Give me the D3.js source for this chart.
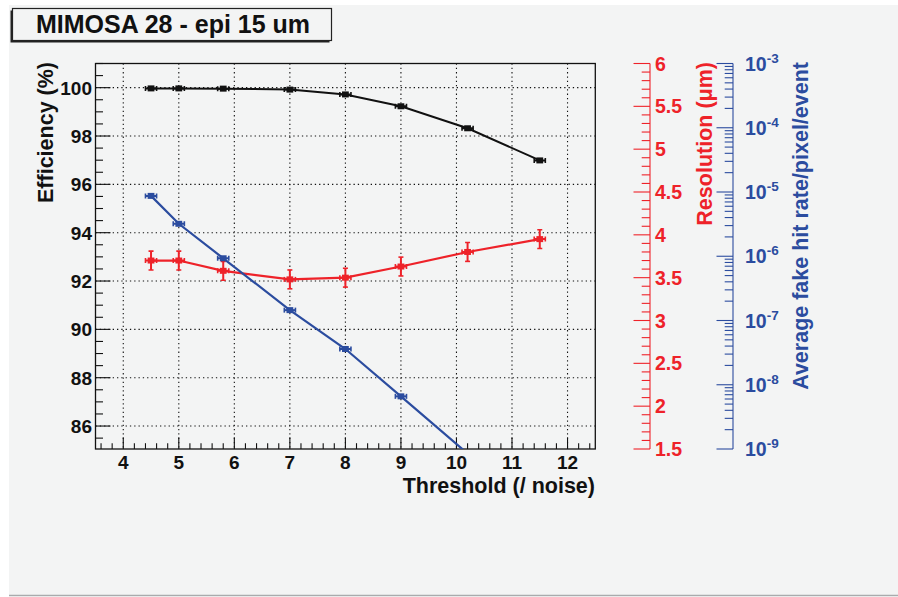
<!DOCTYPE html>
<html>
<head>
<meta charset="utf-8">
<script src="https://cdn.jsdelivr.net/npm/d3@7"></script>
<style>
  html, body { margin: 0; padding: 0; background: #ffffff; }
  svg { display: block; }
  text { font-family: "Liberation Sans", Arial, Helvetica, sans-serif; font-weight: bold; }
</style>
</head>
<body>
<svg id="chart" width="898" height="597"></svg>
<script>
// ---------------- data ----------------
const chartTitle = "MIMOSA 28 - epi 15 um";
const thresholds = [4.5, 5, 5.8, 7, 8, 9, 10.2, 11.5];
const thresholdErr = [0.1, 0.1, 0.1, 0.1, 0.1, 0.1, 0.1, 0.1];
const efficiency = [99.97, 99.97, 99.96, 99.92, 99.72, 99.23, 98.32, 96.99];
const resolution = [3.70, 3.70, 3.58, 3.48, 3.50, 3.63, 3.80, 3.95];
const resolutionErr = [0.11, 0.11, 0.11, 0.11, 0.11, 0.11, 0.11, 0.11];
const fakeThresholds = [4.5, 5, 5.8, 7, 8, 9, 10.2];
const fakeRate = [8.7e-6, 3.2e-6, 9.3e-7, 1.45e-7, 3.6e-8, 6.6e-9, 8.5e-10];
const xTicks = [4, 5, 6, 7, 8, 9, 10, 11, 12];
const effTicks = [86, 88, 90, 92, 94, 96, 98, 100];
const resTicks = [1.5, 2, 2.5, 3, 3.5, 4, 4.5, 5, 5.5, 6];
const fakeExponents = [-3, -4, -5, -6, -7, -8, -9];
const xTitle = "Threshold (/ noise)";
const effTitle = "Efficiency (%)";
const resTitle = "Resolution (\u03bcm)";
const fakeTitle = "Average fake hit rate/pixel/event";

// ---------------- layout ----------------
const W = 898, H = 597;
const frame = { left: 95.5, right: 595.3, top: 63.5, bottom: 449 };
const redAxisX = 650, blueAxisX = 733;
const BLACK = "#111111", RED = "#ee2229", BLUE = "#2b4c9f";

const svg = d3.select("#chart");

// background
svg.append("rect").attr("x", 9).attr("y", 5).attr("width", W - 9).attr("height", 590).attr("fill", "#f3f4f4");
svg.append("line").attr("x1", 9).attr("x2", W).attr("y1", 595.5).attr("y2", 595.5)
  .attr("stroke", "#a9abad").attr("stroke-width", 1.5);

// scales
const x = d3.scaleLinear().domain([3.5, 12.5]).range([frame.left, frame.right]);
const yEff = d3.scaleLinear().domain([85.05, 101]).range([frame.bottom, frame.top]);
const yRes = d3.scaleLinear().domain([1.5, 6]).range([frame.bottom, frame.top]);
const yFake = d3.scaleLog().domain([1e-9, 1e-3]).range([frame.bottom, frame.top]);

// grid
const grid = svg.append("g");
xTicks.forEach(t => grid.append("line")
  .attr("x1", x(t)).attr("x2", x(t)).attr("y1", frame.top).attr("y2", frame.bottom)
  .attr("stroke", BLACK).attr("stroke-width", 1.1).attr("stroke-dasharray", "1.3,3"));
effTicks.forEach(t => grid.append("line")
  .attr("x1", frame.left).attr("x2", frame.right).attr("y1", yEff(t)).attr("y2", yEff(t))
  .attr("stroke", BLACK).attr("stroke-width", 1.1).attr("stroke-dasharray", "1.3,3"));

// frame
svg.append("rect").attr("x", frame.left).attr("y", frame.top)
  .attr("width", frame.right - frame.left).attr("height", frame.bottom - frame.top)
  .attr("fill", "none").attr("stroke", BLACK).attr("stroke-width", 1.3);

// x axis ticks (inside, pointing up)
const xMinor = d3.range(3.6, 12.5, 0.2).map(v => +v.toFixed(2));
const axG = svg.append("g").attr("stroke", BLACK).attr("stroke-width", 1.1);
xMinor.forEach(v => {
  const major = Math.abs(v - Math.round(v)) < 1e-6;
  axG.append("line").attr("x1", x(v)).attr("x2", x(v))
    .attr("y1", frame.bottom).attr("y2", frame.bottom - (major ? 11.5 : 5.8));
});
// left y ticks (inside, pointing right)
const yMinor = d3.range(85.5, 101.01, 0.5).map(v => +v.toFixed(2));
yMinor.forEach(v => {
  const major = effTicks.includes(v);
  axG.append("line").attr("x1", frame.left).attr("x2", frame.left + (major ? 15 : 7.5))
    .attr("y1", yEff(v)).attr("y2", yEff(v));
});

// x tick labels
svg.append("g").selectAll("text").data(xTicks).join("text")
  .attr("x", d => x(d)).attr("y", 469).attr("text-anchor", "middle")
  .attr("font-size", 19).attr("fill", BLACK).text(d => d);
// left tick labels
svg.append("g").selectAll("text").data(effTicks).join("text")
  .attr("x", 92).attr("y", d => yEff(d) + 7).attr("text-anchor", "end")
  .attr("font-size", 19).attr("fill", BLACK).text(d => d);

// axis titles
svg.append("text").attr("x", 595).attr("y", 493).attr("text-anchor", "end")
  .attr("font-size", 21.5).attr("fill", BLACK).text(xTitle);
svg.append("text").attr("transform", "translate(53,62) rotate(-90)").attr("text-anchor", "end")
  .attr("font-size", 21.5).attr("fill", BLACK).text(effTitle);

// red axis
const redG = svg.append("g").attr("stroke", RED).attr("stroke-width", 1.1);
redG.append("line").attr("x1", redAxisX).attr("x2", redAxisX).attr("y1", yRes(6)).attr("y2", yRes(1.5));
d3.range(1.5, 6.001, 0.1).map(v => +v.toFixed(2)).forEach(v => {
  const major = resTicks.some(t => Math.abs(t - v) < 1e-6);
  redG.append("line").attr("x1", redAxisX - (major ? 16.5 : 8.3)).attr("x2", redAxisX)
    .attr("y1", yRes(v)).attr("y2", yRes(v));
});
svg.append("g").selectAll("text").data(resTicks).join("text")
  .attr("x", 655).attr("y", d => yRes(d) + 7).attr("font-size", 19.5).attr("fill", RED)
  .text(d => d);
svg.append("text").attr("transform", "translate(712,62) rotate(-90)").attr("text-anchor", "end")
  .attr("font-size", 21.5).attr("fill", RED).text(resTitle);

// blue log axis
const blueG = svg.append("g").attr("stroke", BLUE).attr("stroke-width", 1.1);
blueG.append("line").attr("x1", blueAxisX).attr("x2", blueAxisX).attr("y1", yFake(1e-3)).attr("y2", yFake(1e-9));
for (let e = -9; e < -3; e++) {
  for (let m = 1; m <= 9; m++) {
    const v = m * Math.pow(10, e);
    blueG.append("line").attr("x1", blueAxisX - (m === 1 ? 16.5 : 8.3)).attr("x2", blueAxisX)
      .attr("y1", yFake(v)).attr("y2", yFake(v));
  }
}
blueG.append("line").attr("x1", blueAxisX - 16.5).attr("x2", blueAxisX)
  .attr("y1", yFake(1e-3)).attr("y2", yFake(1e-3));
const blueLab = svg.append("g").selectAll("text").data(fakeExponents).join("text")
  .attr("x", 745).attr("y", d => yFake(Math.pow(10, d)) + 7)
  .attr("font-size", 19.5).attr("fill", BLUE);
blueLab.append("tspan").text("10");
blueLab.append("tspan").attr("dy", -8).attr("font-size", 13.5).text(d => "-" + Math.abs(d));
svg.append("text").attr("transform", "translate(808,62) rotate(-90)").attr("text-anchor", "end")
  .attr("font-size", 21.5).attr("fill", BLUE).text(fakeTitle);

// clip for data
svg.append("clipPath").attr("id", "plotclip").append("rect")
  .attr("x", frame.left).attr("y", frame.top)
  .attr("width", frame.right - frame.left).attr("height", frame.bottom - frame.top);
const plot = svg.append("g").attr("clip-path", "url(#plotclip)");

function drawSeries(xs, ys, xe, ye, yScale, color, lw) {
  const pts = xs.map((d, i) => ({ x: xs[i], y: ys[i], xe: xe ? xe[i] : 0, ye: ye ? ye[i] : null }));
  const line = d3.line().x(d => x(d.x)).y(d => yScale(d.y));
  const g = plot.append("g");
  g.append("path").datum(pts).attr("d", line).attr("fill", "none")
    .attr("stroke", color).attr("stroke-width", lw);
  pts.forEach(p => {
    const cx = x(p.x), cy = yScale(p.y);
    const x0 = x(p.x - p.xe), x1 = x(p.x + p.xe);
    g.append("line").attr("x1", x0).attr("x2", x1).attr("y1", cy).attr("y2", cy)
      .attr("stroke", color).attr("stroke-width", 2);
    [x0, x1].forEach(xx => g.append("line").attr("x1", xx).attr("x2", xx)
      .attr("y1", cy - 2.5).attr("y2", cy + 2.5).attr("stroke", color).attr("stroke-width", 1.6));
    if (p.ye !== null) {
      const y0 = yScale(p.y - p.ye), y1 = yScale(p.y + p.ye);
      g.append("line").attr("x1", cx).attr("x2", cx).attr("y1", y0).attr("y2", y1)
        .attr("stroke", color).attr("stroke-width", 2);
      [y0, y1].forEach(yy => g.append("line").attr("x1", cx - 2.5).attr("x2", cx + 2.5)
        .attr("y1", yy).attr("y2", yy).attr("stroke", color).attr("stroke-width", 1.6));
    }
    g.append("rect").attr("x", cx - 3.4).attr("y", cy - 3).attr("width", 6.8).attr("height", 6)
      .attr("fill", color);
  });
}

drawSeries(thresholds, efficiency, thresholdErr, null, yEff, BLACK, 2);
drawSeries(thresholds, resolution, thresholdErr, resolutionErr, yRes, RED, 2.2);
drawSeries(fakeThresholds, fakeRate, thresholdErr, null, yFake, BLUE, 2.2);

// title box with shadow
svg.append("rect").attr("x", 10.5).attr("y", 10.5).attr("width", 319).attr("height", 32).attr("fill", "#222");
svg.append("rect").attr("x", 12.5).attr("y", 8.5).attr("width", 319).attr("height", 32)
  .attr("fill", "#f3f4f4").attr("stroke", "#222").attr("stroke-width", 1.2);
svg.append("text").attr("x", 173).attr("y", 33).attr("text-anchor", "middle")
  .attr("font-size", 25).attr("fill", BLACK).text(chartTitle);
</script>
</body>
</html>
